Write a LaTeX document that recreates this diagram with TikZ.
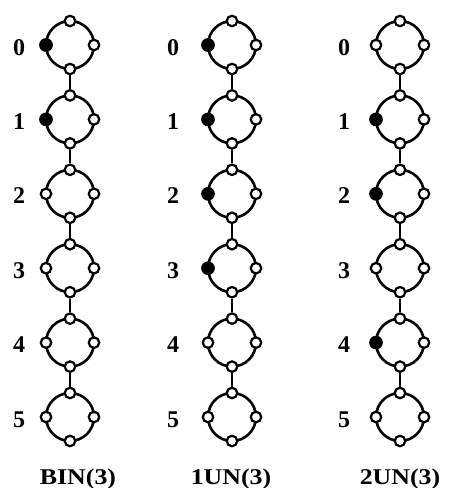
\documentclass[tikz,border=0pt]{standalone}
\usepackage{fontspec}
\setmainfont{Liberation Serif}

\tikzset{every picture/.style={line width=2.6pt}}
\tikzset{
  ring/.style={circle, draw, minimum size=48pt, inner sep=0pt, outer sep=0pt},
  hollowport/.style={circle, draw, fill=white, minimum size=10.5pt, inner sep=0pt, line width=2.2pt},
  fullport/.style={hollowport, fill=black, minimum size=11.5pt},
  lvl/.style={anchor=base, font=\bfseries\fontsize{24}{24}\selectfont},
  tag/.style={anchor=base, font=\bfseries\fontsize{22.5}{24}\selectfont}
}

\begin{document}
\begin{tikzpicture}[x=1pt, y=-1pt]
        \useasboundingbox (0,0) rectangle (450,488);
        \foreach \c/\cx/\lx/\tx/\name/\full in {1/70/19/78/BIN(3)/{0,1}, 2/232/173/231/1UN(3)/{0,1,2,3}, 3/400/344/400/2UN(3)/{1,2,4}} {
          \foreach \r in {0,...,5} {
            \pgfmathsetmacro\cy{45+74.4*\r}
            \gdef\kind{hollowport}
            \foreach \f in \full {\ifnum\f=\r \gdef\kind{fullport}\fi}
            \node[ring] (c\c r\r) at (\cx,\cy) {};
            \node[hollowport] (c\c r\r t) at (c\c r\r.north) {};
            \node[hollowport] (c\c r\r e) at (c\c r\r.east) {};
            \node[hollowport] (c\c r\r b) at (c\c r\r.south) {};
            \node[\kind] (c\c r\r w) at (c\c r\r.west) {};
            \node[lvl] (c\c n\r) at (\lx,\cy+10) {\r};
          }
          \foreach \r [evaluate=\r as \s using int(\r+1)] in {0,...,4}
            \draw (c\c r\r b) -- (c\c r\s t);
          \node[tag] (c\c tag) at (\tx,484) {\scalebox{1.15}[1]{\name}};
        }
    \end{tikzpicture}
\end{document}
